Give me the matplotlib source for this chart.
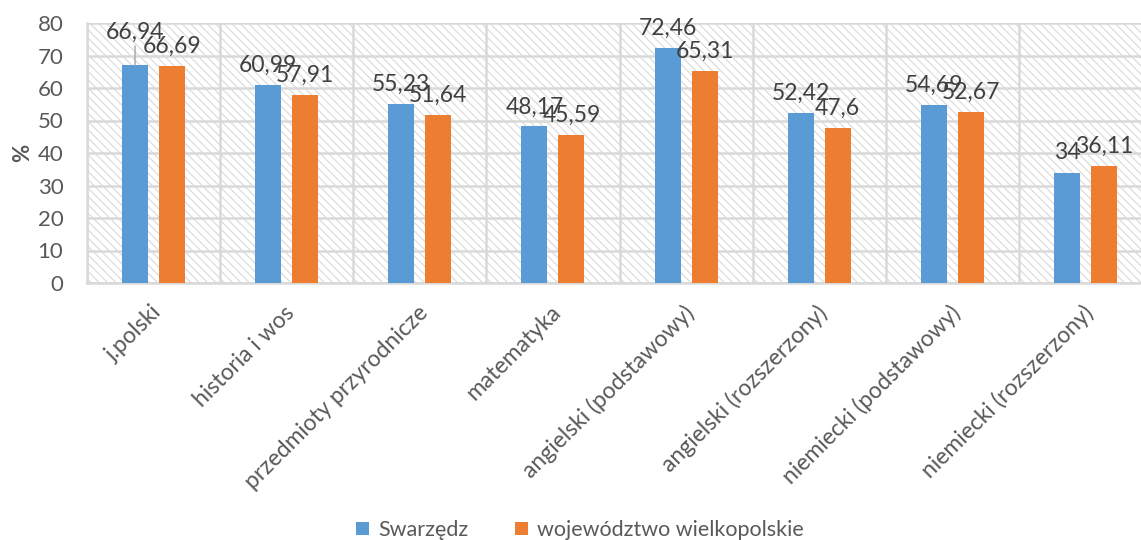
import matplotlib
matplotlib.use('Agg')
import matplotlib.pyplot as plt
import matplotlib.transforms as mtransforms
from matplotlib.patches import Rectangle
import numpy as np

plt.rcParams['font.family'] = ['Lato', 'DejaVu Sans']
plt.rcParams['hatch.linewidth'] = 0.9

categories = ['j.polski', 'historia i wos', 'przedmioty przyrodnicze', 'matematyka',
              'angielski (podstawowy)', 'angielski (rozszerzony)', 'niemiecki (podstawowy)',
              'niemiecki (rozszerzony)']
swarzedz = [66.94, 60.99, 55.23, 48.17, 72.46, 52.42, 54.69, 34]
wielkopolska = [66.69, 57.91, 51.64, 45.59, 65.31, 47.6, 52.67, 36.11]
series_names = ['Swarzędz', 'województwo wielkopolskie']
y_ticks = [0, 10, 20, 30, 40, 50, 60, 70, 80]

blue = '#5B9BD5'
orange = '#ED7D31'
grid_col = '#D9D9D9'
text_col = '#595959'
label_col = '#404040'

fig = plt.figure(figsize=(11.41, 5.40), dpi=100)
# plot area runs a little past the right edge of the picture, as in the reference
ax = fig.add_axes([87 / 1141, 1 - 283 / 540, (1152 - 87) / 1141, 260 / 540])

x = np.arange(len(categories))
width = 0.195
off = 0.139

# hatched background
bg = Rectangle((0, 0), 1, 1, transform=ax.transAxes, facecolor='white',
               edgecolor='#DCDCDC', hatch='\\\\\\\\', lw=0, zorder=0)
ax.add_patch(bg)

b1 = ax.bar(x - off, swarzedz, width, color=blue, label=series_names[0], zorder=3)
b2 = ax.bar(x + off, wielkopolska, width, color=orange, label=series_names[1], zorder=3)

ax.set_xlim(-0.5, len(categories) - 0.5)
ax.set_ylim(0, 80)
ax.set_yticks(y_ticks)
ax.set_xticks(x)
ax.set_xticks(np.arange(-0.5, len(categories), 1), minor=True)
ax.set_axisbelow(True)
ax.grid(axis='y', color=grid_col, lw=1.8, zorder=1)
ax.grid(axis='x', which='minor', color=grid_col, lw=1.8, zorder=1)
ax.grid(axis='x', which='major', visible=False)

for side in ['top', 'right']:
    ax.spines[side].set_visible(False)
for side in ['left', 'bottom']:
    ax.spines[side].set_color(grid_col)
    ax.spines[side].set_linewidth(1.8)

ax.tick_params(axis='both', which='both', length=0)
ax.tick_params(axis='y', labelsize=16, labelcolor=text_col, pad=17)
ax.set_xticklabels(categories, rotation=45, ha='right', va='top', rotation_mode='anchor',
                   fontsize=16.5, color=text_col)
shift = mtransforms.ScaledTranslation(-3 / 100, -14 / 100, fig.dpi_scale_trans)
for lbl in ax.get_xticklabels():
    lbl.set_transform(lbl.get_transform() + shift)

ax.set_ylabel('%', fontsize=16, fontweight='bold', color=text_col, labelpad=3)

# data labels
for bars, vals in [(b1, swarzedz), (b2, wielkopolska)]:
    for i, (bar, v) in enumerate(zip(bars, vals)):
        txt = ('%g' % v).replace('.', ',')
        bx = bar.get_x() + bar.get_width() / 2
        if bars is b1 and i == 0:
            ax.annotate(txt, (bx, v), xytext=(0, 16), textcoords='offset points',
                        ha='center', va='bottom', fontsize=16.5, color=label_col,
                        arrowprops=dict(arrowstyle='-', color='#A6A6A6', lw=1,
                                        shrinkA=0, shrinkB=0))
        else:
            ax.annotate(txt, (bx, v), xytext=(0, 6.5), textcoords='offset points',
                        ha='center', va='bottom', fontsize=16.5, color=label_col)

leg = fig.legend(loc='center', bbox_to_anchor=(580 / 1141, 1 - 530 / 540), ncol=2,
                 frameon=False, fontsize=15.5, handlelength=0.6, handleheight=0.6,
                 columnspacing=2.2, handletextpad=0.4)
for t in leg.get_texts():
    t.set_color(text_col)

fig.savefig('out.png', dpi=100)
